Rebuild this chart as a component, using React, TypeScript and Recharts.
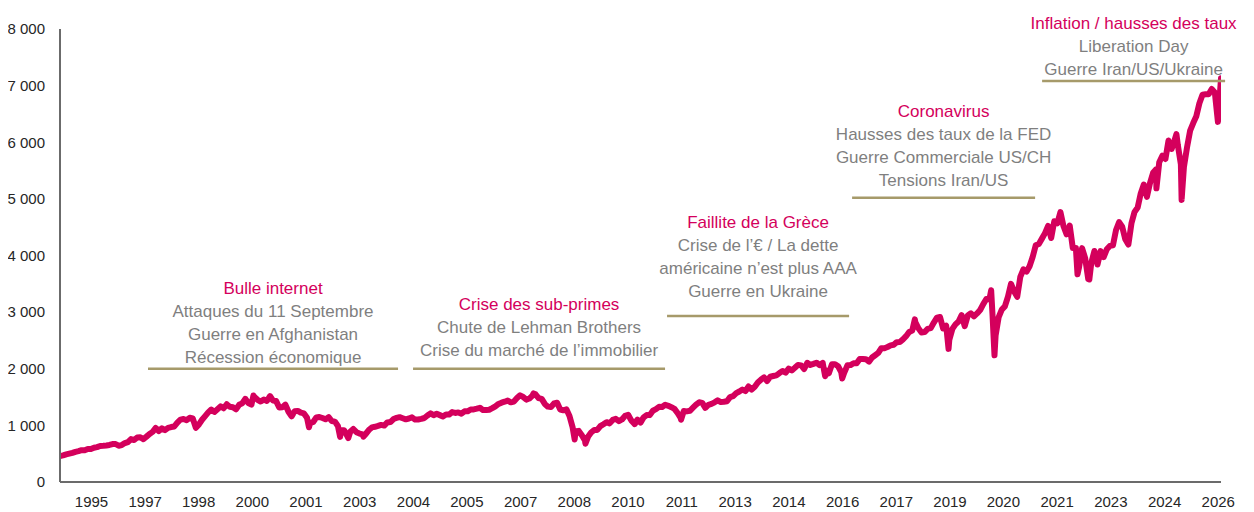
import React from "react";
import { LineChart, Line, XAxis, YAxis, ReferenceLine } from "recharts";

// Month-end closes, Dec 1994 -> Apr 2026 (one value per month)
const closes1995_2000 = [
  459,
  470, 487, 501, 515, 533, 545, 562, 562, 584, 582, 605, 616,
  636, 640, 646, 654, 669, 671, 640, 652, 687, 705, 757, 741,
  786, 791, 757, 801, 848, 885, 954, 899, 947, 915, 955, 970,
  980, 1049, 1102, 1112, 1091, 1134, 1121, 957, 1017, 1099, 1164, 1229,
  1280, 1238, 1286, 1335, 1302, 1373, 1329, 1320, 1283, 1363, 1389, 1469,
  1394, 1366, 1499, 1452, 1421, 1455, 1431, 1518, 1437, 1429, 1315, 1320,
];
const closes2001_2006 = [
  1366, 1240, 1160, 1249, 1256, 1224, 1211, 1134, 1041, 1060, 1139, 1148,
  1130, 1107, 1147, 1077, 1067, 990, 912, 916, 815, 886, 936, 880,
  856, 841, 848, 917, 964, 975, 990, 1008, 996, 1051, 1058, 1112,
  1131, 1145, 1126, 1107, 1121, 1141, 1102, 1104, 1115, 1130, 1174, 1212,
  1181, 1204, 1181, 1157, 1192, 1191, 1234, 1220, 1229, 1207, 1249, 1248,
  1280, 1281, 1295, 1311, 1270, 1270, 1277, 1304, 1336, 1378, 1401, 1418,
];
const closes2007_2012 = [
  1438, 1407, 1421, 1482, 1531, 1503, 1455, 1474, 1527, 1549, 1481, 1468,
  1379, 1331, 1323, 1386, 1400, 1280, 1267, 1283, 1166, 969, 896, 903,
  826, 735, 798, 873, 919, 919, 987, 1021, 1057, 1036, 1096, 1115,
  1074, 1104, 1169, 1187, 1089, 1031, 1102, 1049, 1141, 1183, 1181, 1258,
  1286, 1327, 1326, 1364, 1345, 1321, 1292, 1219, 1131, 1253, 1247, 1258,
  1312, 1366, 1408, 1398, 1310, 1362, 1379, 1407, 1441, 1412, 1416, 1426,
];
const closes2013_2018 = [
  1498, 1515, 1569, 1598, 1631, 1606, 1686, 1633, 1682, 1757, 1806, 1848,
  1783, 1859, 1872, 1884, 1924, 1960, 1931, 2003, 1972, 2018, 2068, 2059,
  1995, 2105, 2068, 2086, 2107, 2063, 2104, 1972, 1920, 2079, 2080, 2044,
  1940, 1932, 2060, 2065, 2097, 2099, 2174, 2171, 2168, 2126, 2199, 2239,
  2279, 2364, 2363, 2384, 2412, 2423, 2470, 2472, 2519, 2575, 2648, 2674,
  2824, 2714, 2641, 2648, 2705, 2718, 2816, 2902, 2914, 2712, 2760, 2507,
];
const closes2019_2026 = [
  2704, 2784, 2834, 2946, 2752, 2942, 2980, 2926, 2977, 3038, 3141, 3231,
  3226, 2954, 2585, 2912, 3044, 3100, 3271, 3500, 3363, 3270, 3622, 3756,
  3714, 3811, 3973, 4181, 4204, 4298, 4395, 4523, 4308, 4605, 4567, 4766,
  4516, 4374, 4530, 4132, 4132, 3785, 4130, 3955, 3586, 3872, 4080, 3840,
  4077, 3970, 4109, 4169, 4180, 4450, 4589, 4508, 4288, 4194, 4568, 4770,
  4846, 5096, 5254, 5036, 5278, 5460, 5522, 5648, 5762, 5705, 6032, 5882,
  6041, 5955, 5612, 5569, 5912, 6205, 6339, 6460, 6688, 6840, 6849, 6846,
  6940, 6880, 6360, 7130,
];

// Intra-month highs and lows visible on the curve: [decimal year, value]
const intraMonthExtremes: [number, number][] = [
  [2000.22, 1527], [2001.72, 966], [2002.56, 797], [2002.78, 777], [2003.19, 800],
  [2007.78, 1565], [2008.89, 752], [2009.18, 677], [2010.51, 1022], [2011.76, 1099],
  [2015.65, 1867], [2016.11, 1829], [2018.07, 2873], [2018.98, 2351], [2020.13, 3386],
  [2020.22, 2237], [2022.46, 3667], [2022.78, 3577], [2024.59, 5186], [2025.13, 6144],
  [2025.27, 4982],
];

const xTickPositions = [
  1995.85, 1997.3, 1998.74, 2000.19, 2001.64, 2003.09, 2004.54, 2005.98, 2007.43, 2008.88, 2010.33,
  2011.78, 2013.22, 2014.67, 2016.12, 2017.57, 2019.02, 2020.46, 2021.91, 2023.36, 2024.81, 2026.26,
];
const xTickLabels = [
  "1995", "1997", "1998", "2000", "2001", "2003", "2004", "2005", "2007", "2008", "2010",
  "2011", "2013", "2014", "2016", "2017", "2019", "2020", "2021", "2023", "2024", "2026",
];
const yTicks = [0, 1000, 2000, 3000, 4000, 5000, 6000, 7000, 8000];
const yTickLabels = ["0", "1 000", "2 000", "3 000", "4 000", "5 000", "6 000", "7 000", "8 000"];

const annotations = [
  { title: "Bulle internet", lines: ["Attaques du 11 Septembre", "Guerre en Afghanistan", "Récession économique"], x1: 1997.375, x2: 2004.123, y: 2000, gap: 11.5 },
  { title: "Crise des sub-primes", lines: ["Chute de Lehman Brothers", "Crise du marché de l\u2019immobilier"], x1: 2004.528, x2: 2011.329, y: 2000, gap: 18.8 },
  { title: "Faillite de la Grèce", lines: ["Crise de l\u2019€ / La dette", "américaine n\u2019est plus AAA", "Guerre en Ukraine"], x1: 2011.383, x2: 2016.296, y: 2930, gap: 25 },
  { title: "Coronavirus", lines: ["Hausses des taux de la FED", "Guerre Commerciale US/CH", "Tensions Iran/US"], x1: 2016.377, x2: 2021.316, y: 5020, gap: 17.7 },
  { title: "Inflation / hausses des taux", lines: ["Liberation Day", "Guerre Iran/US/Ukraine"], x1: 2021.505, x2: 2026.444, y: 7080, gap: 11.7 },
];

const allCloses = [...closes1995_2000, ...closes2001_2006, ...closes2007_2012, ...closes2013_2018, ...closes2019_2026];
const data = [
  ...allCloses.map((v, i) => ({ t: 1995 + i / 12, v })),
  ...intraMonthExtremes.map(([t, v]) => ({ t, v })),
].sort((a, b) => a.t - b.t);

const MAGENTA = "#D4005C";
const GREY_TEXT = "#7F7F7F";
const GOLD = "#A69A6A";
const FONT = "'Liberation Sans', Arial, sans-serif";
const LINE_H = 23;

const AnnotLabel = (props: any) => {
  const { viewBox, title, lines, gap } = props;
  if (!viewBox) return null;
  const cx = viewBox.x + viewBox.width / 2;
  const all = [title, ...lines];
  const lastY = viewBox.y - gap;
  return (
    <g>
      {all.map((txt: string, i: number) => (
        <text
          key={i}
          x={cx}
          y={lastY - (all.length - 1 - i) * LINE_H}
          dy="0.355em"
          textAnchor="middle"
          fontSize={17}
          fontFamily={FONT}
          fill={i === 0 ? MAGENTA : GREY_TEXT}
        >
          {txt}
        </text>
      ))}
    </g>
  );
};

export default function App() {
  return (
    <div style={{ width: 1246, height: 504, fontFamily: FONT }}>
      <LineChart width={1246} height={504} data={data} margin={{ top: 21, right: 33, bottom: 0, left: 0 }}>
        <XAxis
          type="number"
          dataKey="t"
          domain={[1995, 2026.333]}
          ticks={xTickPositions}
          interval={0}
          tickFormatter={(_v: number, i: number) => xTickLabels[i]}
          tickLine={false}
          tickSize={0}
          tickMargin={14}
          height={30}
          axisLine={{ stroke: "#6B6B6B", strokeWidth: 2 }}
          tick={{ fill: "#262626", fontSize: 15, fontFamily: FONT }}
          allowDataOverflow
        />
        <YAxis
          type="number"
          domain={[0, 8000]}
          ticks={yTicks}
          interval={0}
          tickFormatter={(_v: number, i: number) => yTickLabels[i]}
          tickLine={false}
          tickSize={0}
          tickMargin={15}
          width={52}
          axisLine={{ stroke: "#6B6B6B", strokeWidth: 2 }}
          tick={{ fill: "#262626", fontSize: 15, fontFamily: FONT }}
        />
        <Line
          type="linear"
          dataKey="v"
          stroke={MAGENTA}
          strokeWidth={6}
          strokeLinejoin="round"
          strokeLinecap="round"
          dot={false}
          activeDot={false}
          isAnimationActive={false}
        />
        {annotations.map((a, i) => (
          <ReferenceLine
            key={i}
            segment={[{ x: a.x1, y: a.y }, { x: a.x2, y: a.y }]}
            stroke={GOLD}
            strokeWidth={2.5}
            ifOverflow="visible"
            label={<AnnotLabel title={a.title} lines={a.lines} gap={a.gap} />}
          />
        ))}
      </LineChart>
    </div>
  );
}
